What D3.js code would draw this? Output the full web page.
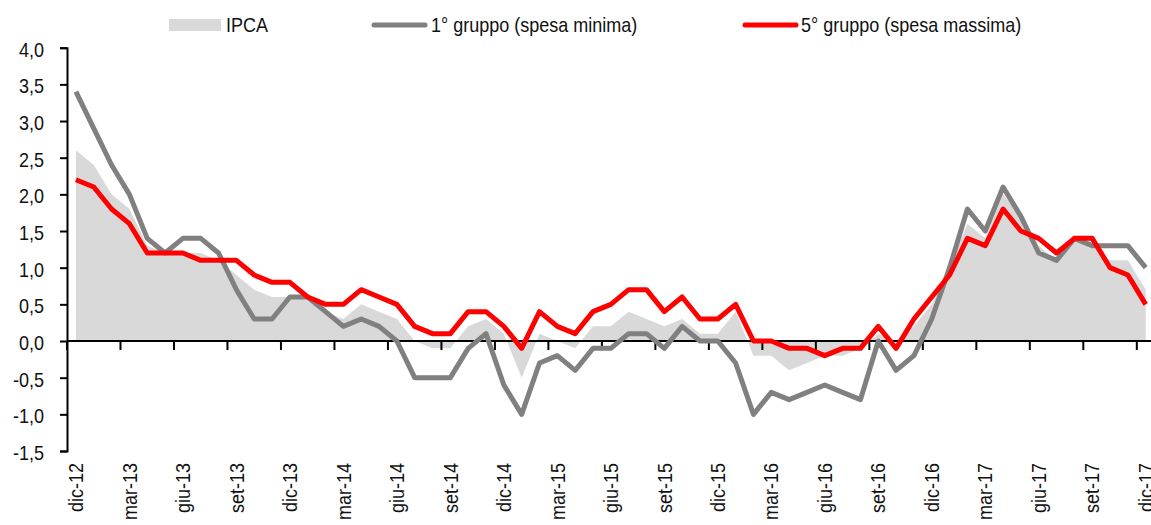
<!DOCTYPE html>
<html lang="it">
<head>
  <meta charset="UTF-8">
  <title>Inflazione per gruppi di spesa</title>
  <script src="https://d3js.org/d3.v7.min.js"></script>
  <style>
    body {
      margin: 0;
      padding: 0;
      background: #fff;
    }
    text {
      font-family: "Liberation Sans", Arial, sans-serif;
      font-size: 20px;
      fill: #111;
    }
  </style>
</head>
<body>
  <div id="chart"></div>
  <script>
const categories = [
  "dic-12", "gen-13", "feb-13", "mar-13", "apr-13", "mag-13", "giu-13", "lug-13", "ago-13", "set-13", "ott-13", "nov-13",
  "dic-13", "gen-14", "feb-14", "mar-14", "apr-14", "mag-14", "giu-14", "lug-14", "ago-14", "set-14", "ott-14", "nov-14",
  "dic-14", "gen-15", "feb-15", "mar-15", "apr-15", "mag-15", "giu-15", "lug-15", "ago-15", "set-15", "ott-15", "nov-15",
  "dic-15", "gen-16", "feb-16", "mar-16", "apr-16", "mag-16", "giu-16", "lug-16", "ago-16", "set-16", "ott-16", "nov-16",
  "dic-16", "gen-17", "feb-17", "mar-17", "apr-17", "mag-17", "giu-17", "lug-17", "ago-17", "set-17", "ott-17", "nov-17",
  "dic-17"
];

const ipca = [
  2.6, 2.4, 2.0, 1.8, 1.3, 1.2, 1.2, 1.2, 1.1, 0.9, 0.7, 0.6,
  0.6, 0.6, 0.4, 0.3, 0.5, 0.4, 0.3, 0.0, -0.1, -0.1, 0.2, 0.3,
  0.1, -0.5, 0.1, 0.0, -0.1, 0.2, 0.2, 0.4, 0.3, 0.2, 0.3, 0.1,
  0.1, 0.4, -0.2, -0.2, -0.4, -0.3, -0.2, -0.2, -0.1, 0.1, 0.0, 0.2,
  0.5, 1.0, 1.6, 1.4, 2.0, 1.7, 1.3, 1.1, 1.4, 1.3, 1.1, 1.1,
  0.7
];

const gruppo1 = [
  3.4, 2.9, 2.4, 2.0, 1.4, 1.2, 1.4, 1.4, 1.2, 0.7, 0.3, 0.3,
  0.6, 0.6, 0.4, 0.2, 0.3, 0.2, 0.0, -0.5, -0.5, -0.5, -0.1, 0.1,
  -0.6, -1.0, -0.3, -0.2, -0.4, -0.1, -0.1, 0.1, 0.1, -0.1, 0.2, 0.0,
  0.0, -0.3, -1.0, -0.7, -0.8, -0.7, -0.6, -0.7, -0.8, 0.0, -0.4, -0.2,
  0.3, 1.0, 1.8, 1.5, 2.1, 1.7, 1.2, 1.1, 1.4, 1.3, 1.3, 1.3,
  1.0
];

const gruppo5 = [
  2.2, 2.1, 1.8, 1.6, 1.2, 1.2, 1.2, 1.1, 1.1, 1.1, 0.9, 0.8,
  0.8, 0.6, 0.5, 0.5, 0.7, 0.6, 0.5, 0.2, 0.1, 0.1, 0.4, 0.4,
  0.2, -0.1, 0.4, 0.2, 0.1, 0.4, 0.5, 0.7, 0.7, 0.4, 0.6, 0.3,
  0.3, 0.5, 0.0, 0.0, -0.1, -0.1, -0.2, -0.1, -0.1, 0.2, -0.1, 0.3,
  0.6, 0.9, 1.4, 1.3, 1.8, 1.5, 1.4, 1.2, 1.4, 1.4, 1.0, 0.9,
  0.5
];

const yTicks = [-1.5, -1.0, -0.5, 0.0, 0.5, 1.0, 1.5, 2.0, 2.5, 3.0, 3.5, 4.0];

const width = 1151, height = 525;
const left = 67, bandW = 17.83;
const fmt = v => d3.format(".1f")(v).replace(".", ",").replace("−", "-");

const svg = d3.select("#chart").append("svg")
  .attr("width", width)
  .attr("height", height);

const x = d3.scaleBand()
  .domain(categories)
  .range([left, left + categories.length * bandW])
  .padding(0);

const y = d3.scaleLinear()
  .domain([-1.5, 4.0])
  .range([451, 47.7]);

const cx = i => x(categories[i]) + x.bandwidth() / 2;

// area IPCA
svg.append("path")
  .datum(ipca)
  .attr("fill", "#d9d9d9")
  .attr("d", d3.area()
    .x((d, i) => cx(i))
    .y0(y(0))
    .y1(d => y(d)));

// y axis
const yAxis = svg.append("g")
  .attr("transform", `translate(${left},0)`)
  .call(d3.axisLeft(y).tickValues(yTicks).tickSize(7).tickPadding(16).tickFormat(fmt));
yAxis.select(".domain").attr("stroke", "#000").attr("stroke-width", 2);
yAxis.selectAll(".tick line").attr("stroke", "#000").attr("stroke-width", 2);
yAxis.selectAll(".tick text")
  .attr("font-family", null)
  .attr("font-size", null)
  .attr("fill", "#111")
  .attr("x", -23 / 0.9)
  .attr("dy", "0.42em")
  .attr("transform", "scale(0.9,1)");

// x axis on zero line
const xTickIdx = d3.range(0, categories.length, 3);
const xAxis = svg.append("g");
xAxis.append("line")
  .attr("x1", left).attr("x2", width)
  .attr("y1", y(0)).attr("y2", y(0))
  .attr("stroke", "#000").attr("stroke-width", 2);
xAxis.selectAll("line.tick")
  .data(xTickIdx)
  .join("line")
  .attr("class", "tick")
  .attr("x1", i => x(categories[i])).attr("x2", i => x(categories[i]))
  .attr("y1", y(0)).attr("y2", y(0) + 9)
  .attr("stroke", "#000").attr("stroke-width", 2);

svg.append("g")
  .selectAll("text")
  .data(xTickIdx)
  .join("text")
  .attr("transform", i => `translate(${cx(i)},463) rotate(-90) scale(0.9,1)`)
  .attr("text-anchor", "end")
  .attr("dy", "0.36em")
  .text(i => categories[i]);

// lines
const line = d3.line().x((d, i) => cx(i)).y(d => y(d));

svg.append("path")
  .datum(gruppo1)
  .attr("fill", "none")
  .attr("stroke", "#808080")
  .attr("stroke-width", 5)
  .attr("stroke-linejoin", "round")
  .attr("d", line);

svg.append("path")
  .datum(gruppo5)
  .attr("fill", "none")
  .attr("stroke", "#ff0000")
  .attr("stroke-width", 5)
  .attr("stroke-linejoin", "round")
  .attr("d", line);

// legend
const legend = svg.append("g");
legend.append("rect")
  .attr("x", 169).attr("y", 19).attr("width", 52).attr("height", 12)
  .attr("fill", "#d9d9d9");
legend.append("text")
  .attr("transform", "translate(226,32) scale(0.9,1)")
  .text("IPCA");

legend.append("line")
  .attr("x1", 374).attr("x2", 425).attr("y1", 25).attr("y2", 25)
  .attr("stroke", "#808080").attr("stroke-width", 5).attr("stroke-linecap", "round");
legend.append("text")
  .attr("transform", "translate(431,32) scale(0.9,1)")
  .text("1° gruppo (spesa minima)");

legend.append("line")
  .attr("x1", 745).attr("x2", 796).attr("y1", 25).attr("y2", 25)
  .attr("stroke", "#ff0000").attr("stroke-width", 5).attr("stroke-linecap", "round");
legend.append("text")
  .attr("transform", "translate(801,32) scale(0.9,1)")
  .text("5° gruppo (spesa massima)");
  </script>
</body>
</html>
